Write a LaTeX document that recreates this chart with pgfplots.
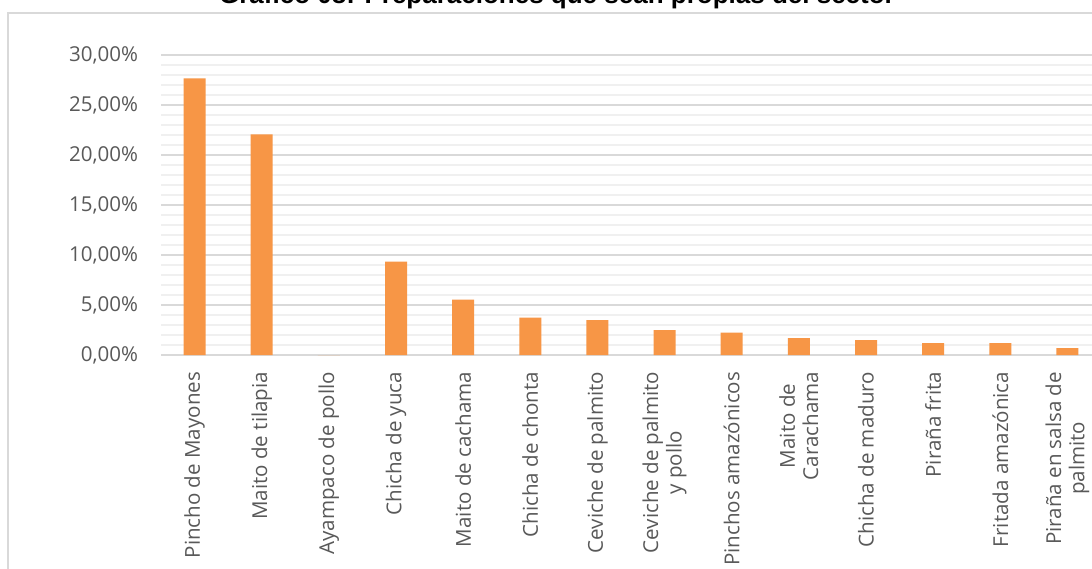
\documentclass[border=0pt]{standalone}
\usepackage{pgfplots}
\pgfplotsset{compat=1.18}
\usepackage{fontspec}
\setmainfont{Open Sans}
\newfontfamily\titlefont{Liberation Sans}
\definecolor{barorange}{HTML}{F79646}
\definecolor{gridmaj}{HTML}{D9D9D9}
\definecolor{gridmin}{HTML}{F0F0F0}
\definecolor{txtgray}{HTML}{595959}
\begin{document}
\begin{tikzpicture}
\useasboundingbox (0,0) rectangle (819pt,426pt);
\clip (0,0) rectangle (819pt,426pt);
\fill[white] (0,0) rectangle (819pt,426pt);
% chart border
\draw[gridmaj, line width=1.1pt] (6pt,-20pt) -- (6pt,416.25pt) -- (840pt,416.25pt);
% title
\node[anchor=base, font=\titlefont\bfseries\fontsize{19.5}{22}\selectfont, text=black] at (417.75pt,423.5pt) {Gráfico 08: Preparaciones que sean propias del sector};
\begin{axis}[
  at={(120.75pt,159.75pt)}, anchor=south west,
  scale only axis, width=705pt, height=225pt,
  xmin=-0.5, xmax=13.5, ymin=0, ymax=30,
  xtick={0,...,13},
  xticklabels={Pincho de Mayones, Maito de tilapia, Ayampaco de pollo, Chicha de yuca, Maito de cachama, Chicha de chonta, Ceviche de palmito, {Ceviche de palmito\\y pollo}, Pinchos amazónicos, {Maito de\\Carachama}, Chicha de maduro, Piraña frita, Fritada amazónica, {Piraña en salsa de\\palmito}},
  ytick={0,5,...,30},
  yticklabels={0{,}00\%,5{,}00\%,10{,}00\%,15{,}00\%,20{,}00\%,25{,}00\%,30{,}00\%},
  minor y tick num=4,
  ymajorgrids, yminorgrids,
  major grid style={gridmaj, line width=1.1pt},
  minor grid style={gridmin, line width=1.1pt},
  axis x line*=bottom, axis y line*=left,
  x axis line style={gridmaj, line width=1.1pt},
  y axis line style={draw=none},
  tick style={draw=none},
  major tick length=0pt, minor tick length=0pt,
  xticklabel style={rotate=90, anchor=east, align=center, inner sep=0pt, font=\fontsize{15.4}{17.5}\selectfont, text=txtgray},
  xticklabel shift=12.5pt,
  yticklabel style={anchor=east, inner sep=0pt, font=\fontsize{15.4}{17.5}\selectfont, text=txtgray},
  yticklabel shift=17pt,
  clip=false,
]
\addplot[ybar, bar width=16.5pt, fill=barorange, draw=none] coordinates {
(0,27.65) (1,22.05) (2,0) (3,9.35) (4,5.55) (5,3.75) (6,3.5) (7,2.5) (8,2.25) (9,1.7) (10,1.5) (11,1.2) (12,1.2) (13,0.7)
};
\end{axis}
\end{tikzpicture}
\end{document}
